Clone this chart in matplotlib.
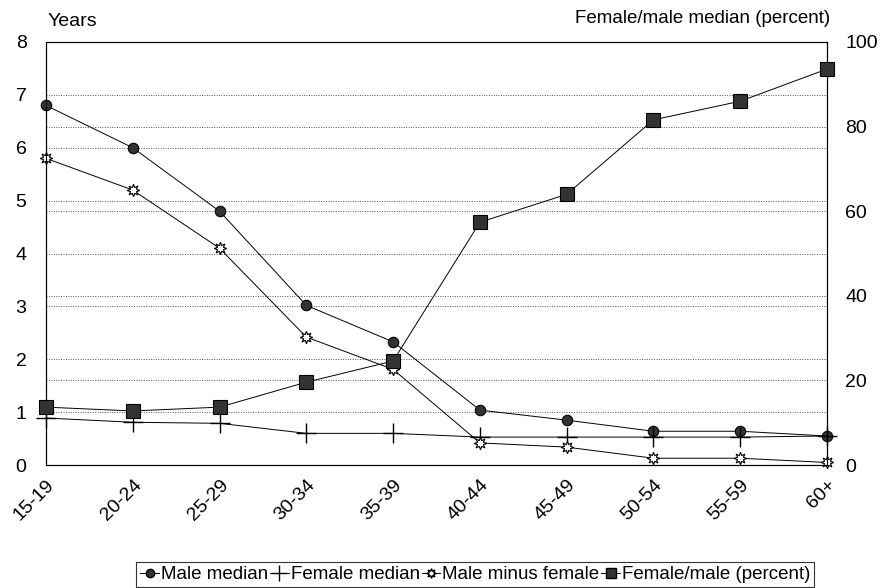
import matplotlib
matplotlib.use("Agg")
import matplotlib.pyplot as plt
import matplotlib.transforms as mtransforms
from matplotlib.lines import Line2D

plt.rcParams['font.family'] = ['Liberation Sans', 'DejaVu Sans']

# age groups
ages = ["15-19", "20-24", "25-29", "30-34", "35-39", "40-44", "45-49", "50-54", "55-59", "60+"]

# years (left axis)
male_median = [6.8, 6.0, 4.8, 3.02, 2.33, 1.04, 0.85, 0.64, 0.64, 0.55]
female_median = [0.89, 0.81, 0.79, 0.6, 0.6, 0.53, 0.53, 0.53, 0.53, 0.55]
male_minus_female = [5.8, 5.2, 4.1, 2.42, 1.81, 0.42, 0.34, 0.13, 0.13, 0.05]

# percent (right axis)
female_male_pct = [13.7, 12.8, 13.7, 19.6, 24.6, 57.4, 64.0, 81.6, 86.0, 93.6]

fig = plt.figure(figsize=(8.85, 5.88), dpi=100)
ax = fig.add_axes([0.052, 0.209, 0.8825, 0.7196])
ax2 = ax.twinx()

x = list(range(len(ages)))

ax.plot(x, male_median, color='black', lw=0.7, marker='o', ms=7.5,
        mfc='#333333', mec='black', mew=0.8, zorder=3, clip_on=False)
ax.plot(x, female_median, color='black', lw=0.7, marker='+', ms=15,
        mew=1.0, zorder=3, clip_on=False)
ax.plot(x, male_minus_female, color='black', lw=0.7, marker=(8, 1, 0), ms=9,
        mfc='white', mec='black', mew=0.8, zorder=3, clip_on=False)
ax2.plot(x, female_male_pct, color='black', lw=0.7, marker='s', ms=9.5,
         mfc='#333333', mec='black', mew=0.8, zorder=3, clip_on=False)

ax.set_xlim(0, 9)
ax.set_ylim(0, 8)
ax2.set_ylim(0, 100)

ax.set_yticks(range(0, 9))
ax2.set_yticks(range(0, 101, 20))

# dotted gridlines for both axes
for v in range(1, 8):
    ax.axhline(v, color='#555555', lw=0.7, ls=(0, (1, 1.5)), zorder=1)
for v in range(20, 100, 20):
    ax2.axhline(v, color='#555555', lw=0.7, ls=(0, (1, 1.5)), zorder=1)

ax.set_xticks(x)
ax.set_xticklabels(ages, rotation=45, ha='right', rotation_mode='anchor', fontsize=14)
shift = mtransforms.ScaledTranslation(6 / 100, 0, fig.dpi_scale_trans)
for lbl in ax.get_xticklabels():
    lbl.set_transform(lbl.get_transform() + shift)
ax.tick_params(axis='x', length=0, pad=8)
ax.tick_params(axis='y', length=0, labelsize=14, pad=14)
ax2.tick_params(axis='y', length=0, labelsize=14, pad=13)

for a in (ax, ax2):
    for s in a.spines.values():
        s.set_linewidth(0.8)
        s.set_color('black')

fig.text(0.054, 0.963, "Years", fontsize=14, ha='left', va='center')
fig.text(0.938, 0.968, "Female/male median (percent)", fontsize=13.5, ha='right', va='center')

handles = [
    Line2D([], [], color='black', lw=0.7, marker='o', ms=6, mfc='#333333', mec='black'),
    Line2D([], [], color='black', lw=0.7, marker='+', ms=12, mew=1.0),
    Line2D([], [], color='black', lw=0.7, marker=(8, 1, 0), ms=7, mfc='white', mec='black'),
    Line2D([], [], color='black', lw=0.7, marker='s', ms=7, mfc='#333333', mec='black'),
]
labels = ["Male median", "Female median", "Male minus female", "Female/male (percent)"]
leg = fig.legend(handles, labels, loc='lower center', bbox_to_anchor=(0.537, -0.014), ncol=4,
                 fontsize=13.5, handlelength=1.0, handletextpad=0.1, columnspacing=0.1,
                 frameon=True, fancybox=False, edgecolor='black', borderpad=0.2)
leg.get_frame().set_linewidth(0.8)

fig.savefig("out.png", dpi=100)
